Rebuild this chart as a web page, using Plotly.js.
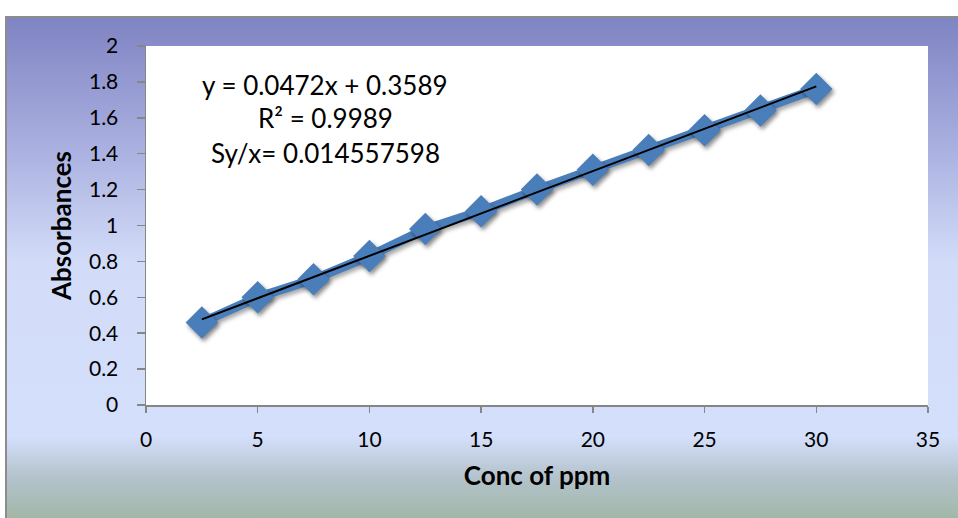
<!DOCTYPE html>
<html>
<head>
<meta charset="utf-8">
<script src="https://cdn.plot.ly/plotly-3.0.1.min.js"></script>
<style>
  html, body { margin: 0; padding: 0; background: #ffffff; }
  #wrap { position: relative; width: 958px; height: 518px; overflow: hidden; }
  #frame {
    position: absolute; left: 5px; top: 16px; width: 960px; height: 510px;
    border-left: 2px solid #8c8c8c; border-top: 2px solid #8c8c8c;
    background: linear-gradient(to bottom, #7f84c3 0%, #a9afdf 25%, #d2dcf8 48%, #d4dffb 82%, #b4c3cc 90%, #9db49e 100%);
  }
  #chart { position: absolute; left: 0; top: 0; width: 958px; height: 518px; }
  .scatterlayer .trace:first-child .points path { filter: drop-shadow(2px 3px 2px rgba(0,0,0,0.45)); }
  .scatterlayer .trace:first-child .js-line { filter: drop-shadow(2px 3px 2px rgba(0,0,0,0.35)); }
</style>
</head>
<body>
<div id="wrap">
  <div id="frame"></div>
  <div id="chart"></div>
</div>
<script>
// Data
const concentration = [2.5, 5, 7.5, 10, 12.5, 15, 17.5, 20, 22.5, 25, 27.5, 30];
const absorbance    = [0.46, 0.60, 0.70, 0.83, 0.98, 1.08, 1.20, 1.31, 1.42, 1.53, 1.64, 1.76];
// Linear trendline end points (as drawn)
const trendX = [2.5, 30];
const trendY = [0.477, 1.775];
const equationLines = ["y = 0.0472x + 0.3589", "R² = 0.9989", "Sy/x= 0.014557598"];
const xTickVals = [0, 5, 10, 15, 20, 25, 30, 35];
const yTickVals = [0, 0.2, 0.4, 0.6, 0.8, 1, 1.2, 1.4, 1.6, 1.8, 2];

const font = "Lato, 'Open Sans', sans-serif";

const traces = [
  {
    x: concentration, y: absorbance, type: 'scatter', mode: 'lines+markers',
    line: { color: '#4a7ebb', width: 9 },
    marker: { symbol: 'diamond', size: 25, color: '#4a7ebb' },
    hoverinfo: 'skip', showlegend: false
  },
  {
    x: trendX, y: trendY, type: 'scatter', mode: 'lines',
    line: { color: '#000000', width: 2 },
    hoverinfo: 'skip', showlegend: false
  }
];

const annYs = [0.891, 0.799, 0.702];
const annotations = equationLines.map((t, i) => ({
  text: t, xref: 'paper', yref: 'paper', x: 0.229, y: annYs[i],
  xanchor: 'center', yanchor: 'middle', showarrow: false,
  font: { family: font, size: 26, color: '#000000' }
}));

const layout = {
  width: 958, height: 518,
  margin: { l: 146, r: 30, t: 46, b: 113 },
  paper_bgcolor: 'rgba(0,0,0,0)',
  plot_bgcolor: '#ffffff',
  showlegend: false,
  xaxis: {
    range: [0, 35], tickvals: xTickVals, ticktext: xTickVals.map(String),
    showgrid: false, zeroline: false, showline: true, linecolor: '#868686', linewidth: 1.5,
    ticks: 'outside', ticklen: 6, tickcolor: '#868686', tickwidth: 1.5,
    ticklabelstandoff: 9,
    tickfont: { family: font, size: 21, color: '#000' },
    title: { text: '<b>Conc of ppm</b>', font: { family: font, size: 26, color: '#000' }, standoff: 17 },
    fixedrange: true
  },
  yaxis: {
    range: [0, 2], tickvals: yTickVals, ticktext: yTickVals.map(String),
    showgrid: false, zeroline: false, showline: true, linecolor: '#868686', linewidth: 1.5,
    ticks: 'outside', ticklen: 8, tickcolor: '#868686', tickwidth: 1.5,
    ticklabelstandoff: 14,
    tickfont: { family: font, size: 21, color: '#000' },
    title: { text: '<b>Absorbances</b>', font: { family: font, size: 26, color: '#000' }, standoff: 10 },
    fixedrange: true
  },
  annotations: annotations
};

Plotly.newPlot('chart', traces, layout, { displayModeBar: false, staticPlot: true });
</script>
</body>
</html>
